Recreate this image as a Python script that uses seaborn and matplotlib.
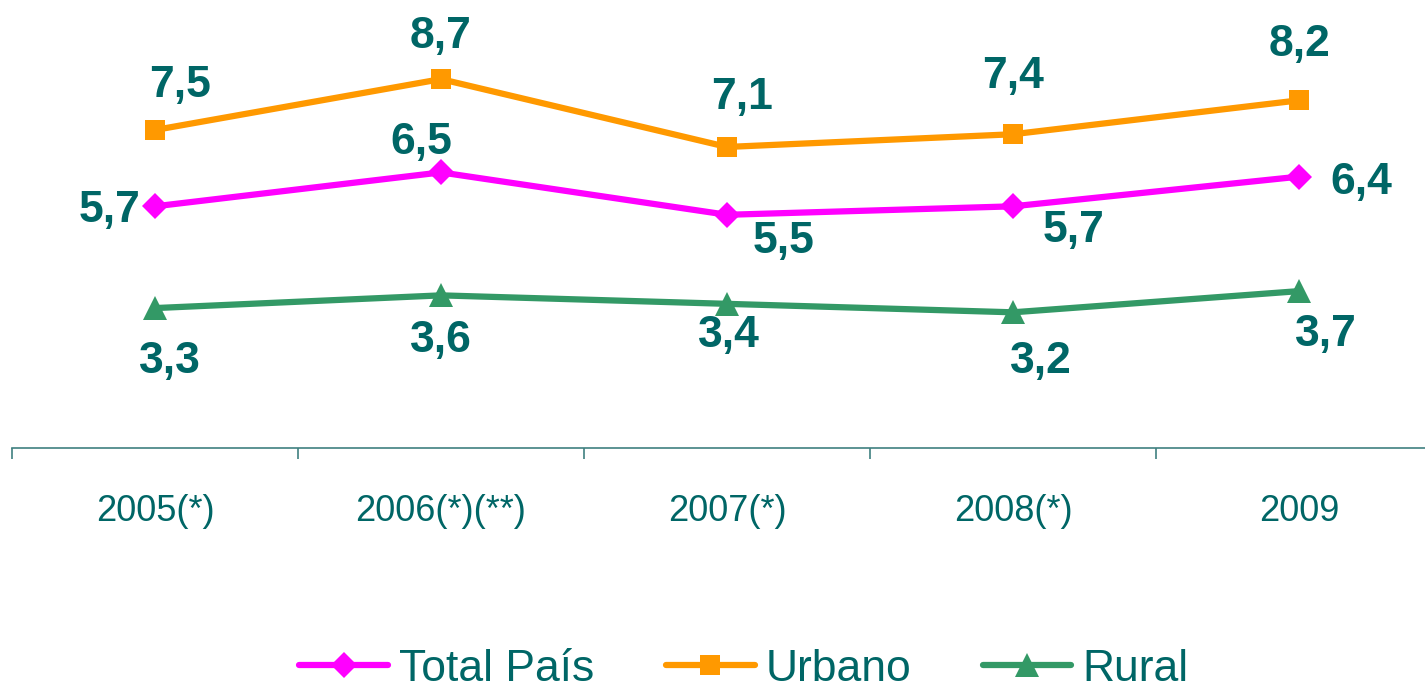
import matplotlib
matplotlib.use("Agg")
import matplotlib.pyplot as plt
import pandas as pd
import seaborn as sns

# Data
years = ["2005(*)", "2006(*)(**)", "2007(*)", "2008(*)", "2009"]
total_pais = [5.7, 6.5, 5.5, 5.7, 6.4]
urbano = [7.5, 8.7, 7.1, 7.4, 8.2]
rural = [3.3, 3.6, 3.4, 3.2, 3.7]
series_names = ["Total País", "Urbano", "Rural"]

text_color = "#006666"
colors = {"Total País": "#FF00FF", "Urbano": "#FF9900", "Rural": "#339966"}
markers = {"Total País": "D", "Urbano": "s", "Rural": "^"}
marker_sizes = {"Total País": 13, "Urbano": 15, "Rural": 17}

# label offsets in pixels from each point
label_offsets = {
    "Total País": [(-45, -4), (-20, 30), (57, -27), (61, -24), (62, -6)],
    "Urbano": [(25, 44), (0, 43), (15, 49), (0, 58), (0, 56)],
    "Rural": [(15, -53), (0, -45), (2, -32), (28, -49), (27, -43)],
}

df = pd.DataFrame({
    "year": years * 3,
    "value": total_pais + urbano + rural,
    "series": [s for s in series_names for _ in years],
})

sns.set_style("white")
plt.rcParams["font.family"] = ["Liberation Sans", "DejaVu Sans"]

fig = plt.figure(figsize=(14.25, 6.94), dpi=100)
ax = fig.add_axes([12 / 1425, 1 - 448 / 694, 1430 / 1425, 448 / 694])

pos = {y: i for i, y in enumerate(years)}
df["x"] = df["year"].map(pos)

for name in series_names:
    sub = df[df["series"] == name]
    sns.lineplot(data=sub, x="x", y="value", ax=ax, color=colors[name],
                 marker=markers[name], markersize=marker_sizes[name],
                 markeredgewidth=0, linewidth=4.5, label=name,
                 solid_capstyle="round")
    for (xv, yv), off in zip(zip(sub["x"], sub["value"]), label_offsets[name]):
        ax.annotate(f"{yv:.1f}".replace(".", ","), (xv, yv), xytext=off,
                    textcoords="offset pixels", ha="center", va="center",
                    fontsize=32, fontweight="bold", color=text_color)

ax.set_xlim(-0.5, 4.5)
ax.set_ylim(0, 448 / 42.4)
ax.set_xlabel("")
ax.set_ylabel("")
ax.set_yticks([])

ax.set_xticks([i - 0.5 for i in range(len(years) + 1)])
ax.set_xticklabels([])
ax.set_xticks(range(len(years)), minor=True)
ax.set_xticklabels(years, minor=True, fontsize=26, color=text_color)
ax.tick_params(axis="x", which="major", direction="out", length=8,
               width=1.2, color="#408080", bottom=True)
ax.tick_params(axis="x", which="minor", length=0, pad=33)

for side in ["top", "right", "left"]:
    ax.spines[side].set_visible(False)
ax.spines["bottom"].set_color("#408080")
ax.spines["bottom"].set_linewidth(1.2)
ax.patch.set_alpha(0)

ax.get_legend().remove()
handles, labels = ax.get_legend_handles_labels()
leg = fig.legend(handles, labels, loc="center", bbox_to_anchor=(744 / 1425, 0.036),
                 ncol=3, frameon=False, fontsize=32, handlelength=2.0,
                 handletextpad=0.25, columnspacing=1.6)
for t in leg.get_texts():
    t.set_color(text_color)

fig.savefig("out.png", dpi=100)
